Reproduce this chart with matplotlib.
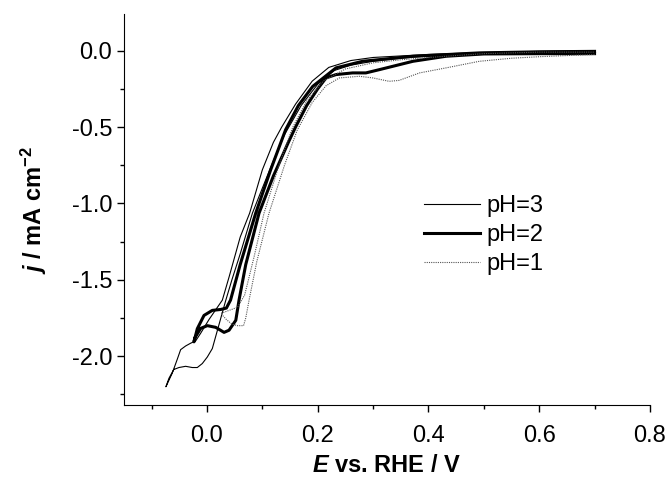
import numpy as np
import matplotlib
matplotlib.use('Agg')
import matplotlib.pyplot as plt
from matplotlib.ticker import MultipleLocator, FormatStrFormatter

plt.rcParams['font.family'] = 'Liberation Sans'
plt.rcParams['mathtext.fontset'] = 'custom'
plt.rcParams['mathtext.it'] = 'Liberation Sans:bold:italic'
plt.rcParams['mathtext.rm'] = 'Liberation Sans:bold'
plt.rcParams['mathtext.bf'] = 'Liberation Sans:bold'

# pH=3 : potential (V vs RHE) / current density (mA cm-2), cathodic then anodic sweep
E_ph3 = [0.70, 0.60, 0.50, 0.40, 0.35, 0.30, 0.26, 0.23, 0.20, 0.17, 0.14, 0.12, 0.10, 0.082,
         0.06, 0.045, 0.034, 0.0096, 0.0006, -0.0085, -0.0175, -0.0266, -0.0386, -0.0507,
         -0.06, -0.0688, -0.0742,
         -0.0627, -0.0537, -0.0476, -0.0386, -0.0296, -0.0205, -0.0115, 0.0036, 0.0277,
         0.04, 0.06, 0.077, 0.10, 0.12, 0.135, 0.16, 0.19, 0.22, 0.26, 0.30, 0.40, 0.50, 0.60, 0.70]
j_ph3 = [-0.01, -0.012, -0.02, -0.035, -0.05, -0.07, -0.095, -0.13, -0.22, -0.36, -0.55, -0.72, -0.90, -1.064,
         -1.33, -1.50, -1.633, -1.95, -2.005, -2.048, -2.074, -2.074, -2.066, -2.074,
         -2.087, -2.145, -2.20,
         -2.11, -2.02, -1.957, -1.933, -1.915, -1.90, -1.85, -1.76, -1.633,
         -1.48, -1.22, -1.064, -0.78, -0.60, -0.50, -0.35, -0.20, -0.11, -0.065, -0.045, -0.025, -0.012, -0.005, 0.0]

# pH=2
E_ph2 = [0.70, 0.60, 0.50, 0.432, 0.372, 0.311, 0.287, 0.263, 0.233, 0.215, 0.20, 0.18, 0.16, 0.147,
         0.12, 0.094, 0.07, 0.058, 0.052, 0.0398, 0.0308, 0.0157, 0.0006, -0.0115, -0.022, -0.0235,
         -0.0175, -0.0054, 0.0096, 0.0248, 0.035, 0.0425, 0.06, 0.088, 0.115, 0.142, 0.165, 0.191,
         0.233, 0.281, 0.372, 0.492, 0.60, 0.70]
j_ph2 = [-0.02, -0.02, -0.022, -0.037, -0.07, -0.125, -0.146, -0.146, -0.157, -0.179, -0.25, -0.36, -0.50, -0.60,
         -0.82, -1.064, -1.40, -1.63, -1.765, -1.83, -1.844, -1.811, -1.80, -1.818, -1.88, -1.906,
         -1.82, -1.733, -1.70, -1.694, -1.685, -1.633, -1.40, -1.064, -0.78, -0.518, -0.36, -0.234,
         -0.113, -0.07, -0.037, -0.015, -0.008, -0.005]

# pH=1
E_ph1 = [0.70, 0.60, 0.55, 0.492, 0.432, 0.384, 0.347, 0.329, 0.30, 0.275, 0.239, 0.215, 0.19, 0.163,
         0.14, 0.112, 0.09, 0.076, 0.07, 0.066, 0.055, 0.045, 0.035, 0.025,
         0.04, 0.055, 0.068, 0.085, 0.103, 0.13, 0.155, 0.18, 0.21, 0.25, 0.30, 0.35, 0.42, 0.50, 0.60, 0.70]
j_ph1 = [-0.025, -0.04, -0.05, -0.07, -0.113, -0.146, -0.195, -0.201, -0.179, -0.168, -0.179, -0.23, -0.34, -0.52,
         -0.75, -1.064, -1.38, -1.633, -1.75, -1.80, -1.80, -1.79, -1.76, -1.72,
         -1.70, -1.68, -1.60, -1.35, -1.064, -0.75, -0.50, -0.33, -0.20, -0.12, -0.08, -0.06, -0.04, -0.02, -0.01, -0.01]

fig = plt.figure(figsize=(6.7, 4.8), dpi=100)
ax = fig.add_axes([0.185, 0.156, 0.785, 0.815])

ax.plot(E_ph3, j_ph3, color='black', lw=0.8, label='pH=3')
ax.plot(E_ph2, j_ph2, color='black', lw=2.2, label='pH=2')
ax.plot(E_ph1, j_ph1, color='#555555', lw=0.8, ls=(0, (1, 1)), label='pH=1')

ax.set_xlim(-0.15, 0.8)
ax.set_ylim(-2.32, 0.24)
ax.xaxis.set_major_locator(MultipleLocator(0.2))
ax.xaxis.set_minor_locator(MultipleLocator(0.1))
ax.yaxis.set_major_locator(MultipleLocator(0.5))
ax.yaxis.set_minor_locator(MultipleLocator(0.25))
ax.xaxis.set_major_formatter(FormatStrFormatter('%.1f'))
ax.yaxis.set_major_formatter(FormatStrFormatter('%.1f'))

for s in ['top', 'right']:
    ax.spines[s].set_visible(False)
ax.tick_params(which='major', direction='out', length=5, width=1, labelsize=17)
ax.tick_params(axis='x', which='major', pad=9)
ax.tick_params(which='minor', direction='out', length=3, width=1)

ax.set_xlabel(r'$E$ vs. RHE / V', fontsize=17, fontweight='bold', labelpad=5)
ax.set_ylabel(r'$j$ / mA cm$^{-2}$', fontsize=17, fontweight='bold', labelpad=16)

ax.legend(loc='center left', bbox_to_anchor=(0.57, 0.435), frameon=False, fontsize=17,
          handlelength=2.4, handletextpad=0.25, labelspacing=0.3, borderpad=0, borderaxespad=0)

fig.savefig('out.png', dpi=100)
